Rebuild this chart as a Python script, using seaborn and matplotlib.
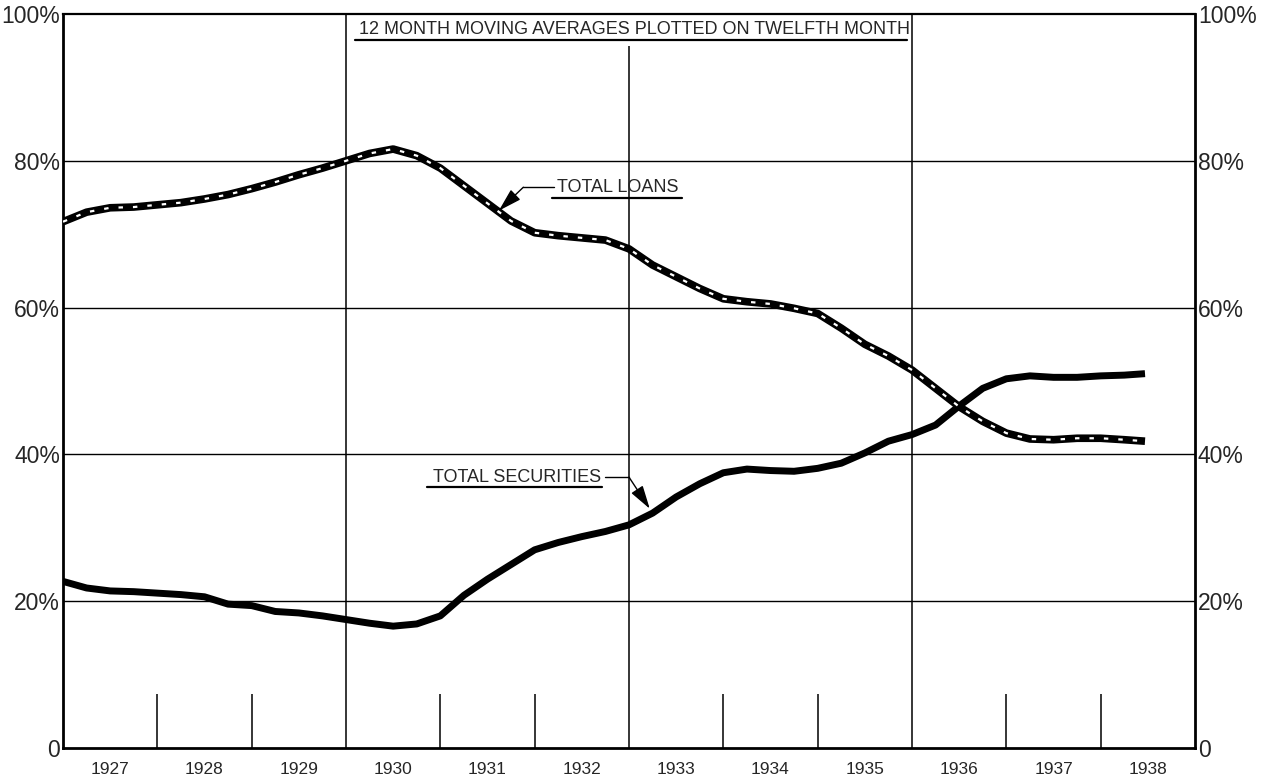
import numpy as np
import pandas as pd
import matplotlib
matplotlib.use("Agg")
import matplotlib.pyplot as plt
import seaborn as sns

# ---- data (quarterly positions) ----
quarters = [1927.00, 1927.25, 1927.50, 1927.75, 1928.00, 1928.25, 1928.50, 1928.75,
            1929.00, 1929.25, 1929.50, 1929.75, 1930.00, 1930.25, 1930.50, 1930.75,
            1931.00, 1931.25, 1931.50, 1931.75, 1932.00, 1932.25, 1932.50, 1932.75,
            1933.00, 1933.25, 1933.50, 1933.75, 1934.00, 1934.25, 1934.50, 1934.75,
            1935.00, 1935.25, 1935.50, 1935.75, 1936.00, 1936.25, 1936.50, 1936.75,
            1937.00, 1937.25, 1937.50, 1937.75, 1938.00, 1938.25, 1938.47]
total_loans = [71.7, 73.0, 73.6, 73.7, 74.0, 74.3, 74.8, 75.4,
               76.2, 77.1, 78.1, 79.0, 80.0, 81.0, 81.6, 80.7,
               79.0, 76.6, 74.2, 71.8, 70.2, 69.8, 69.5, 69.2,
               68.0, 65.8, 64.2, 62.6, 61.2, 60.8, 60.5, 59.9,
               59.2, 57.2, 55.0, 53.4, 51.5, 49.0, 46.5, 44.5,
               42.9, 42.1, 42.0, 42.2, 42.2, 42.0, 41.8]
total_securities = [22.7, 21.8, 21.4, 21.3, 21.1, 20.9, 20.6, 19.6,
                    19.4, 18.6, 18.4, 18.0, 17.5, 17.0, 16.6, 16.9,
                    18.0, 20.8, 23.0, 25.0, 27.0, 28.0, 28.8, 29.5,
                    30.4, 32.0, 34.2, 36.0, 37.5, 38.0, 37.8, 37.7,
                    38.1, 38.8, 40.2, 41.8, 42.7, 44.0, 46.6, 49.0,
                    50.3, 50.7, 50.5, 50.5, 50.7, 50.8, 51.0]
year_labels = ["1927", "1928", "1929", "1930", "1931", "1932",
               "1933", "1934", "1935", "1936", "1937", "1938"]
y_ticks = [0, 20, 40, 60, 80, 100]
y_labels = ["0", "20%", "40%", "60%", "80%", "100%"]
title_text = "12 MONTH MOVING AVERAGES PLOTTED ON TWELFTH MONTH"

df = pd.DataFrame({"year": quarters, "loans": total_loans, "securities": total_securities})

sns.set_theme(style="white")
plt.rcParams["font.family"] = ["Liberation Sans", "DejaVu Sans"]

fig = plt.figure(figsize=(12.62, 7.78), dpi=100)
ax = fig.add_axes([63 / 1262, 1 - 748 / 778, (1195 - 63) / 1262, (748 - 14) / 778])

x0, x1 = 1927.0, 1939.0
ax.set_xlim(x0, x1)
ax.set_ylim(0, 100)

# grid lines
for yv in [20, 40, 60, 80]:
    ax.axhline(yv, color="black", lw=1.0, zorder=1)
for xv in [1930, 1936]:
    ax.axvline(xv, color="black", lw=1.1, zorder=1)
ax.vlines([1933], 0, 95.6, color="black", lw=1.1, zorder=1)
short = [1928, 1929, 1931, 1932, 1934, 1935, 1937, 1938]
ax.vlines(short, 0, 7.3, color="black", lw=1.1, zorder=1)

# data lines
sns.lineplot(data=df, x="year", y="securities", ax=ax, color="black", lw=5.0,
             solid_capstyle="butt", zorder=3)
sns.lineplot(data=df, x="year", y="loans", ax=ax, color="black", lw=5.5,
             solid_capstyle="butt", zorder=3)
sns.lineplot(data=df, x="year", y="loans", ax=ax, color="white", lw=1.6,
             linestyle=(0, (2.0, 4.5)), zorder=4)

# title box text
ax.text(1933.06, 97.9, title_text, ha="center", va="center", fontsize=13, zorder=5)
ax.plot([1930.1, 1935.95], [96.4, 96.4], color="black", lw=1.6, zorder=5)

arrow_style = dict(arrowstyle="-|>,head_length=1.2,head_width=0.35",
                   color="black", lw=1.0, shrinkA=0, shrinkB=0)

# labels with leaders
ax.text(1932.24, 76.4, "TOTAL LOANS", ha="left", va="center", fontsize=13, zorder=5)
ax.plot([1932.18, 1933.56], [74.9, 74.9], color="black", lw=1.6, zorder=5)
ax.plot([1931.88, 1932.20], [76.4, 76.4], color="black", lw=1.0, zorder=5)
ax.annotate("", xy=(1931.62, 73.2), xytext=(1931.88, 76.4),
            arrowprops=arrow_style, zorder=5)

ax.text(1930.92, 36.9, "TOTAL SECURITIES", ha="left", va="center", fontsize=13, zorder=5)
ax.plot([1930.86, 1932.71], [35.5, 35.5], color="black", lw=1.6, zorder=5)
ax.plot([1932.75, 1933.0], [36.9, 36.9], color="black", lw=1.0, zorder=5)
ax.annotate("", xy=(1933.22, 32.6), xytext=(1933.0, 36.9),
            arrowprops=arrow_style, zorder=5)

# axes styling
ax.set_xlabel("")
ax.set_ylabel("")
ax.set_xticks([1927.5 + i for i in range(len(year_labels))])
ax.set_xticklabels(year_labels, fontsize=12.5)
ax.tick_params(axis="x", length=0, pad=10)
ax.set_yticks(y_ticks)
ax.set_yticklabels(y_labels, fontsize=16.5)
ax.tick_params(axis="y", length=0, pad=2, labelleft=True, labelright=True)
for s in ["left", "right", "bottom"]:
    ax.spines[s].set_linewidth(2.0)
    ax.spines[s].set_color("black")
ax.spines["top"].set_linewidth(1.6)
ax.spines["top"].set_color("black")
ax.grid(False)

fig.savefig("out.png", dpi=100, facecolor="white")
